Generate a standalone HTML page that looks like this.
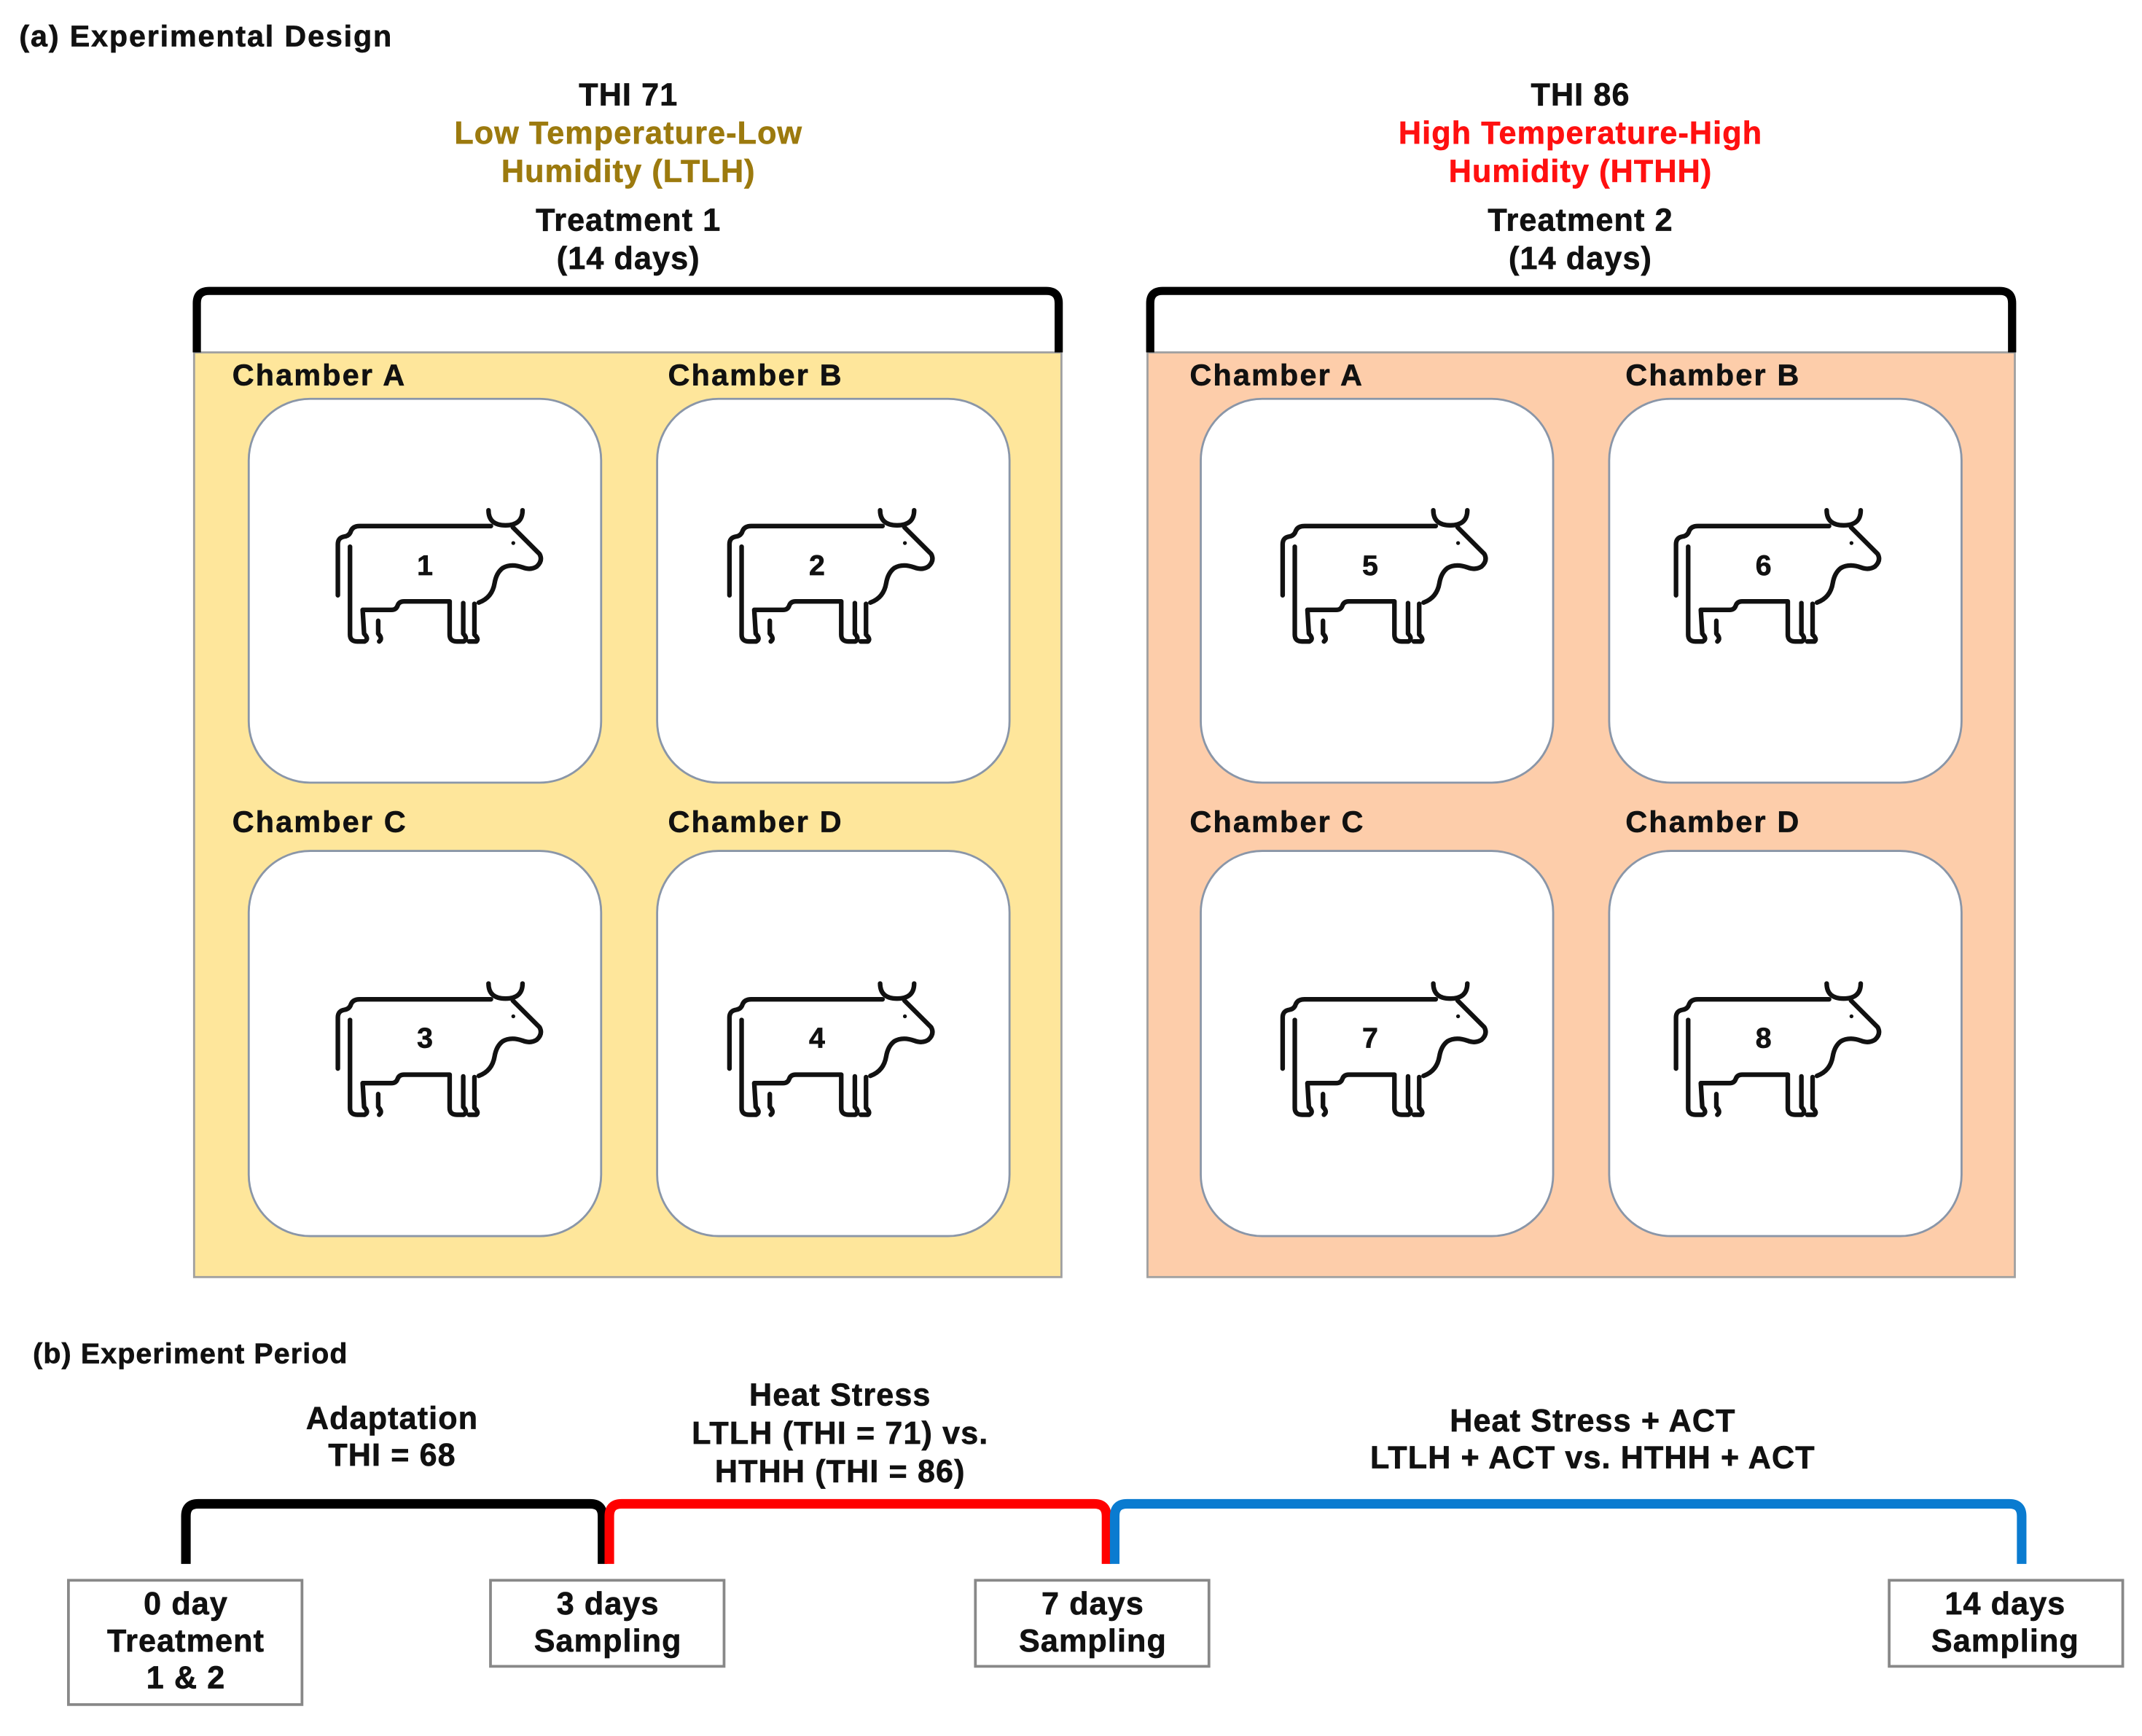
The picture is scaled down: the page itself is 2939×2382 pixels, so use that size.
<!DOCTYPE html>
<html><head><meta charset="utf-8"><style>
html,body{margin:0;padding:0;background:#fff;}
svg{display:block;}
text{font-family:"Liberation Sans",Arial,sans-serif;font-weight:bold;stroke:currentColor;stroke-width:0.35;}
</style></head><body>
<svg width="2939" height="2382" viewBox="0 0 1568 1271" xmlns="http://www.w3.org/2000/svg">
<defs>
<g id="cow" fill="none" stroke="#111" stroke-width="19" stroke-linecap="round" stroke-linejoin="round">
<path d="M70,410 L70,200 Q70,172 98,168 Q118,165 124,145 Q132,125 160,125 L700,125"/>
<path d="M690,60 Q690,122 760,122 Q830,122 830,60"/>
<path d="M790,130 L900,240 Q915,268 888,292 Q862,308 830,295 Q782,278 748,298 Q722,318 715,360 Q705,420 650,440"/>
<path d="M120,210 L120,572 Q120,600 150,600 L180,600 Q200,590 178,568 L172,470 L290,470 Q310,470 316,452 Q322,435 342,435 L530,435 L530,572 Q530,600 560,600 L588,600 Q606,588 586,568 L586,442"/>
<path d="M236,515 L236,568 Q256,588 240,600"/>
<path d="M632,445 L632,572 Q652,590 640,600 L610,600"/>
<circle cx="792" cy="195" r="8" fill="#111" stroke="none"/>
</g>
</defs>

<text x="14" y="34" font-size="22" letter-spacing="1" fill="#111" color="#111">(a) Experimental Design</text>

<g text-anchor="middle" font-size="23" letter-spacing="0.6" color="#111" fill="#111">
<text x="460" y="77">THI 71</text>
<text x="460" y="105" fill="#9C7A0E" color="#9C7A0E">Low Temperature-Low</text>
<text x="460" y="133" fill="#9C7A0E" color="#9C7A0E">Humidity (LTLH)</text>
<text x="460" y="169">Treatment 1</text>
<text x="460" y="197">(14 days)</text>
<text x="1157" y="77">THI 86</text>
<text x="1157" y="105" fill="#FF1010" color="#FF1010">High Temperature-High</text>
<text x="1157" y="133" fill="#FF1010" color="#FF1010">Humidity (HTHH)</text>
<text x="1157" y="169">Treatment 2</text>
<text x="1157" y="197">(14 days)</text>
</g>

<rect x="142" y="258" width="635" height="677" fill="#FEE69B" stroke="#a0a0a0" stroke-width="1.5"/>
<rect x="840" y="258" width="635" height="677" fill="#FDCDAA" stroke="#a0a0a0" stroke-width="1.5"/>
<path d="M144,258 L144,222 Q144,213 153,213 L766,213 Q775,213 775,222 L775,258" fill="none" stroke="#000" stroke-width="6"/>
<path d="M842,258 L842,222 Q842,213 851,213 L1464,213 Q1473,213 1473,222 L1473,258" fill="none" stroke="#000" stroke-width="6"/>

<g font-size="22" letter-spacing="1.2" fill="#111" color="#111">
<text x="170" y="282">Chamber A</text><text x="489" y="282">Chamber B</text>
<text x="170" y="609">Chamber C</text><text x="489" y="609">Chamber D</text>
<text x="871" y="282">Chamber A</text><text x="1190" y="282">Chamber B</text>
<text x="871" y="609">Chamber C</text><text x="1190" y="609">Chamber D</text>
</g>

<g fill="#fff" stroke="#8a96a8" stroke-width="1.5">
<rect x="182" y="292" width="258" height="281" rx="45"/>
<rect x="481" y="292" width="258" height="281" rx="45"/>
<rect x="182" y="623" width="258" height="282" rx="45"/>
<rect x="481" y="623" width="258" height="282" rx="45"/>
<rect x="879" y="292" width="258" height="281" rx="45"/>
<rect x="1178" y="292" width="258" height="281" rx="45"/>
<rect x="879" y="623" width="258" height="282" rx="45"/>
<rect x="1178" y="623" width="258" height="282" rx="45"/>
</g>

<use href="#cow" transform="translate(234.8,362.9) scale(0.1779)"/>
<use href="#cow" transform="translate(521.5,362.9) scale(0.1779)"/>
<use href="#cow" transform="translate(926.5,362.9) scale(0.1779)"/>
<use href="#cow" transform="translate(1214.5,362.9) scale(0.1779)"/>
<use href="#cow" transform="translate(234.8,709.4) scale(0.1779)"/>
<use href="#cow" transform="translate(521.5,709.4) scale(0.1779)"/>
<use href="#cow" transform="translate(926.5,709.4) scale(0.1779)"/>
<use href="#cow" transform="translate(1214.5,709.4) scale(0.1779)"/>
<g text-anchor="middle" font-size="21" fill="#111" color="#111">
<text x="311" y="421">1</text><text x="598" y="421">2</text>
<text x="1003" y="421">5</text><text x="1291" y="421">6</text>
<text x="311" y="767">3</text><text x="598" y="767">4</text>
<text x="1003" y="767">7</text><text x="1291" y="767">8</text>
</g>

<text x="24" y="998" font-size="21" letter-spacing="0.6" fill="#111" color="#111">(b) Experiment Period</text>
<g text-anchor="middle" font-size="23" letter-spacing="0.6" fill="#111" color="#111">
<text x="287" y="1046">Adaptation</text>
<text x="287" y="1073">THI = 68</text>
<text x="615" y="1029">Heat Stress</text>
<text x="615" y="1057">LTLH (THI = 71) vs.</text>
<text x="615" y="1085">HTHH (THI = 86)</text>
<text x="1166" y="1048">Heat Stress + ACT</text>
<text x="1166" y="1075">LTLH + ACT vs. HTHH + ACT</text>
</g>
<g fill="none" stroke-width="7">
<path d="M136,1145 L136,1110 Q136,1101 145,1101 L432,1101 Q441,1101 441,1110 L441,1145" stroke="#000"/>
<path d="M446,1145 L446,1110 Q446,1101 455,1101 L801,1101 Q810,1101 810,1110 L810,1145" stroke="#FF0000"/>
<path d="M816,1145 L816,1110 Q816,1101 825,1101 L1471,1101 Q1480,1101 1480,1110 L1480,1145" stroke="#0A7BD0"/>
</g>
<g fill="#fff" stroke="#888" stroke-width="2">
<rect x="50" y="1157" width="171" height="91"/>
<rect x="359" y="1157" width="171" height="63"/>
<rect x="714" y="1157" width="171" height="63"/>
<rect x="1383" y="1157" width="171" height="63"/>
</g>
<g text-anchor="middle" font-size="23" letter-spacing="0.6" fill="#111" color="#111">
<text x="136" y="1182">0 day</text><text x="136" y="1209">Treatment</text><text x="136" y="1236">1 &amp; 2</text>
<text x="445" y="1182">3 days</text><text x="445" y="1209">Sampling</text>
<text x="800" y="1182">7 days</text><text x="800" y="1209">Sampling</text>
<text x="1468" y="1182">14 days</text><text x="1468" y="1209">Sampling</text>
</g>
</svg>
</body></html>
